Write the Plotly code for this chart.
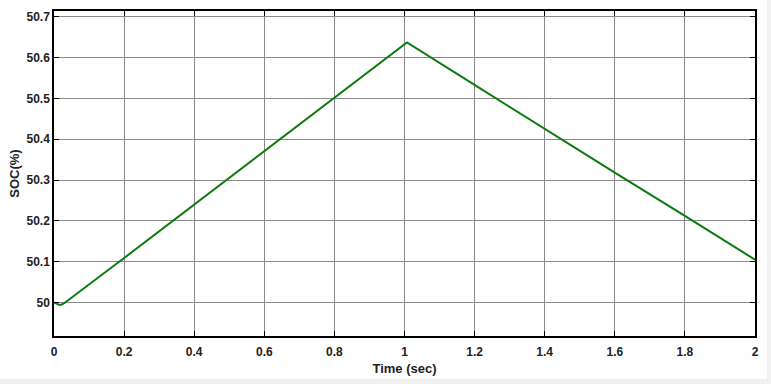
import plotly.graph_objects as go

time_s = [0.0, 0.008, 0.015, 0.022, 0.03, 0.2, 0.4, 0.6, 0.8, 1.0, 1.007, 1.2, 1.4, 1.6, 1.8, 2.0]
soc = [50.0, 49.996, 49.994, 49.995, 49.999, 50.109, 50.24, 50.372, 50.503, 50.633, 50.637,
       50.533, 50.425, 50.318, 50.212, 50.105]

x_ticks = [0, 0.2, 0.4, 0.6, 0.8, 1, 1.2, 1.4, 1.6, 1.8, 2]
x_tick_text = ["0", "0.2", "0.4", "0.6", "0.8", "1", "1.2", "1.4", "1.6", "1.8", "2"]
y_ticks = [50, 50.1, 50.2, 50.3, 50.4, 50.5, 50.6, 50.7]
y_tick_text = ["50", "50.1", "50.2", "50.3", "50.4", "50.5", "50.6", "50.7"]

font = "Liberation Sans, Arial, sans-serif"
tick_font = dict(family=font, size=12, color="#222222", weight="bold")

axis_common = dict(showline=True, linecolor="black", linewidth=1.5, mirror="ticks",
                   ticks="inside", ticklen=5, tickcolor="black", tickwidth=1,
                   showgrid=True, gridcolor="#8a8a8a", gridwidth=1, zeroline=False,
                   tickfont=tick_font)

fig = go.Figure()
fig.add_trace(go.Scatter(x=time_s, y=soc, mode="lines",
                         line=dict(color="#0d7a0d", width=2), showlegend=False))

fig.update_layout(
    width=771, height=384,
    margin=dict(l=54, r=16, t=9, b=48),
    paper_bgcolor="white", plot_bgcolor="white",
    xaxis=dict(range=[0, 2], tickvals=x_ticks, ticktext=x_tick_text, ticklabelstandoff=4,
               title=dict(text="<b>Time (sec)</b>", font=dict(family=font, size=13, color="#222222"),
                          standoff=6),
               **axis_common),
    yaxis=dict(range=[49.918, 50.714], tickvals=y_ticks, ticktext=y_tick_text,
               title=dict(text="<b>SOC(%)</b>", font=dict(family=font, size=13, color="#222222"),
                          standoff=4),
               **axis_common),
)

# light gray window strips at right and bottom edges
fig.add_shape(type="rect", xref="paper", yref="paper", x0=1.0171, x1=1.04, y0=-0.2, y1=1.1,
              fillcolor="#f0f0f0", line=dict(width=0), layer="below")
fig.add_shape(type="rect", xref="paper", yref="paper", x0=-0.1, x1=1.04, y0=-0.2, y1=-0.1315,
              fillcolor="#f0f0f0", line=dict(width=0), layer="below")

fig.write_html("out.html")
